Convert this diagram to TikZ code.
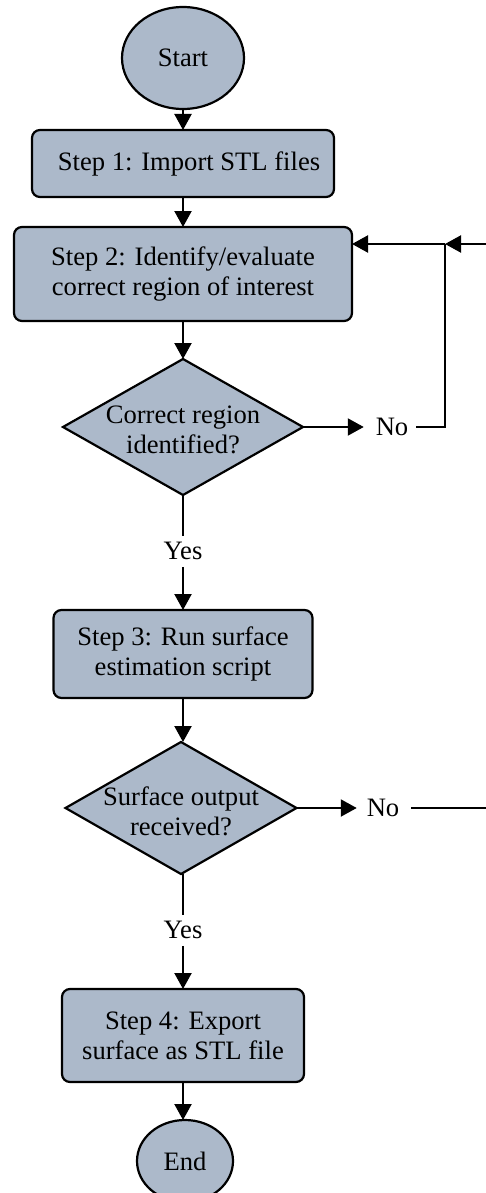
\documentclass[tikz,border=0pt]{standalone}
\usepackage{fontspec}
\setmainfont{Liberation Serif}
\usetikzlibrary{shapes.geometric,arrows.meta}
\definecolor{boxfill}{RGB}{172,185,202}
\begin{document}
\begin{tikzpicture}[x=0.5pt,y=-0.5pt,
  font=\fontsize{13.3}{15}\selectfont,
  every node/.style={inner sep=0pt, outer sep=0pt},
  stepbox/.style={draw, line width=1.1pt, fill=boxfill, rounded corners=4pt, align=center},
  termbox/.style={draw, line width=1.1pt, fill=boxfill, ellipse},
  decbox/.style={draw, line width=1.1pt, fill=boxfill, diamond},
  conn/.style={line width=1.1pt},
  arr/.style={line width=1.1pt, -{Triangle[length=8pt,width=8.5pt]}}]
\useasboundingbox (0,0) rectangle (486,1193);

\node[termbox, minimum width=61pt, minimum height=51pt] (start) at (183,58) {Start};
\node[stepbox, minimum width=151pt, minimum height=33.5pt] (s1) at (183,163.5) {\hspace*{6pt}Step 1: Import STL files};
\node[stepbox, minimum width=169pt, minimum height=47pt] (s2) at (183,274) {Step 2: Identify/evaluate\\correct region of interest};
\node[decbox, minimum width=120pt, minimum height=68pt] (d1) at (183,427) {};
\node[align=center] (d1t) at (183,430) {Correct region\\identified?};
\node (no1) at (392,427) {No};
\node (yes1) at (183,551) {Yes};
\node[stepbox, minimum width=129.5pt, minimum height=44pt] (s3) at (183,654) {Step 3: Run surface\\estimation script};
\node[decbox, minimum width=115.5pt, minimum height=66pt] (d2) at (181,808) {};
\node[align=center] (d2t) at (181,811) {Surface output\\received?};
\node (no2) at (383,808) {No};
\node (yes2) at (183,930) {Yes};
\node[stepbox, minimum width=121pt, minimum height=46.5pt] (s4) at (183,1035.5) {Step 4: Export\\surface as STL file};
\node[termbox, minimum width=48pt, minimum height=41pt] (end) at (185,1161) {End};

\coordinate (c1) at (445,427);
\coordinate (c2) at (445,244);
\coordinate (c3) at (486,244);
\coordinate (c4) at (486,808);

\draw[arr] (start.south) -- (s1.north);
\draw[arr] (s1.south) -- (s2.north);
\draw[arr] (s2.south) -- (d1.north);
\draw[conn] (d1.south) -- ([yshift=3pt]yes1.north);
\draw[arr] ([yshift=-3.5pt]yes1.south) -- (s3.north);
\draw[arr] (d1.east) -- ([xshift=-6pt]no1.west);
\draw[conn] ([xshift=4pt]no1.east) -- (c1) -- (c2);
\draw[arr] (c2) -- (s2.east |- c2);
\draw[arr] (c3) -- (c2);
\draw[arr] (s3.south) -- (s3.south |- d2.north);
\draw[arr] (d2.east) -- ([xshift=-5pt]no2.west);
\draw[conn] ([xshift=6pt]no2.east) -- (c4);
\draw[conn] (d2.south -| yes2.north) -- ([yshift=3pt]yes2.north);
\draw[arr] ([yshift=-3.5pt]yes2.south) -- (s4.north);
\draw[arr] (s4.south) -- (s4.south |- end.north);
\end{tikzpicture}
\end{document}
